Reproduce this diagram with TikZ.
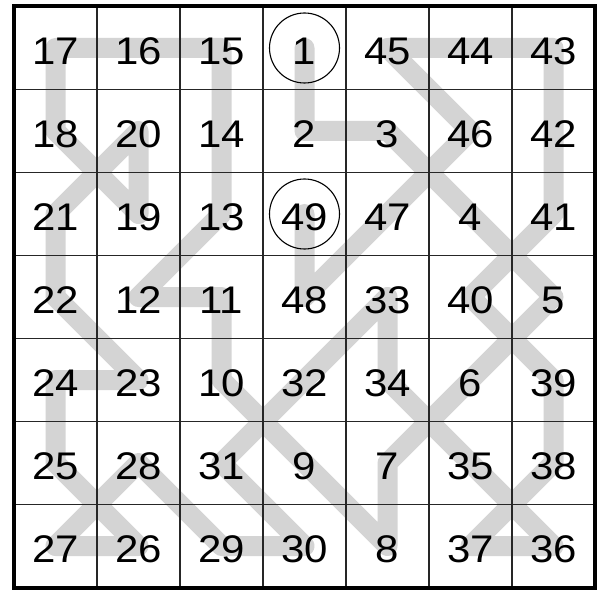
\documentclass[tikz,border=0pt]{standalone}
\usepackage{fontspec}
\setmainfont{Liberation Sans}
\begin{document}
\begin{tikzpicture}[x=1pt,y=1pt,
  trail/.style={draw=black!17,line width=20pt,line cap=round,line join=round},
  thin grid/.style={draw=black!85,line width=1.2pt},
  frame/.style={draw=black,line width=4pt},
  numlabel/.style={inner sep=0pt,anchor=base,xscale=1.09,font=\fontsize{38.5}{40}\selectfont},
  ring/.style={draw=black,line width=1.1pt,circle,minimum size=70pt,inner sep=0pt}]
\useasboundingbox (0,0) rectangle (605,590);
\fill[white] (0,0) rectangle (605,590);
% cell centres
\foreach \n/\c/\r in {17/0/0,16/1/0,15/2/0,1/3/0,45/4/0,44/5/0,43/6/0,
  18/0/1,20/1/1,14/2/1,2/3/1,3/4/1,46/5/1,42/6/1,
  21/0/2,19/1/2,13/2/2,49/3/2,47/4/2,4/5/2,41/6/2,
  22/0/3,12/1/3,11/2/3,48/3/3,33/4/3,40/5/3,5/6/3,
  24/0/4,23/1/4,10/2/4,32/3/4,34/4/4,6/5/4,39/6/4,
  25/0/5,28/1/5,31/2/5,9/3/5,7/4/5,35/5/5,38/6/5,
  27/0/6,26/1/6,29/2/6,30/3/6,8/4/6,37/5/6,36/6/6}
  {\coordinate (c\n) at ({55.5+83*\c},{542-83*\r});}
% path
\draw[trail] (c1) \foreach \k in {2,...,49}{ -- (c\k)};
% grid
\foreach \i in {1,...,6}{
  \draw[thin grid] ({14+83*\i},2.5) -- ({14+83*\i},583.5);
  \draw[thin grid] (14,{2.5+83*\i}) -- (595,{2.5+83*\i});
}
\draw[frame] (14,2.5) rectangle (595,583.5);
% numbers
\foreach \n in {1,...,49}{
  \node[numlabel] (n\n) at ([yshift=-16.5pt]c\n) {\n};
}
\node[ring] (r1) at (c1) {};
\node[ring] (r49) at (c49) {};
\end{tikzpicture}
\end{document}
